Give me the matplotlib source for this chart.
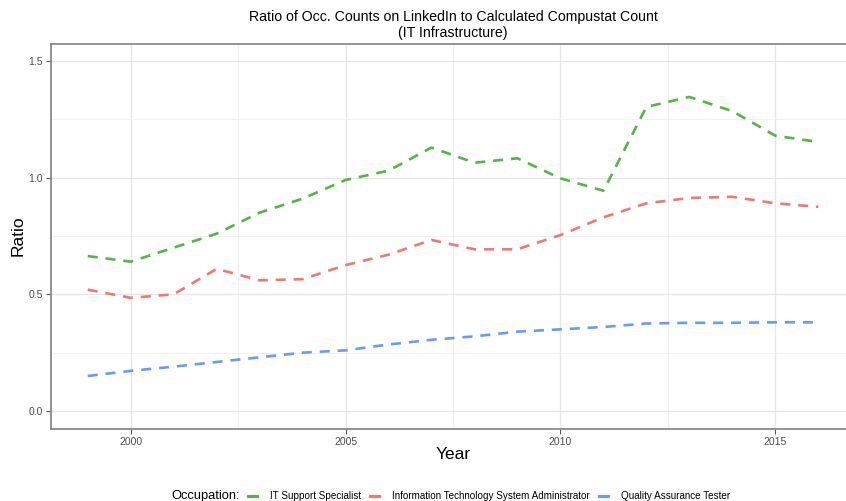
import numpy as np
import matplotlib.pyplot as plt
from matplotlib.lines import Line2D

plt.rcParams['font.family'] = ['Liberation Sans', 'DejaVu Sans']

years = list(range(1999, 2017))

it_support = [0.664, 0.640, 0.700, 0.760, 0.850, 0.910, 0.990, 1.030, 1.129,
              1.064, 1.083, 0.997, 0.944, 1.303, 1.346, 1.285, 1.180, 1.153]
it_admin = [0.520, 0.485, 0.500, 0.609, 0.560, 0.565, 0.625, 0.670, 0.733,
            0.693, 0.693, 0.754, 0.830, 0.890, 0.913, 0.918, 0.890, 0.875]
qa_tester = [0.150, 0.172, 0.190, 0.210, 0.230, 0.250, 0.260, 0.285, 0.305,
             0.320, 0.340, 0.350, 0.360, 0.375, 0.378, 0.378, 0.380, 0.380]

names = ['IT Support Specialist', 'Information Technology System Administrator',
         'Quality Assurance Tester']
colors = ['#4fb840', '#f2776d', '#619cff']
series = [it_support, it_admin, qa_tester]

W, H = 846, 501
fig = plt.figure(figsize=(W / 100, H / 100), dpi=100)
ax = fig.add_axes([51.2 / W, 1 - 428.5 / H, 803.6 / W, 385 / H])

for vals, c in zip(series, colors):
    ax.plot(years, vals, color=c, lw=1.9, dashes=(3.8, 3.0), solid_capstyle='butt')

ax.set_xticks([2000, 2005, 2010, 2015])
ax.set_xticks([2002.5, 2007.5, 2012.5], minor=True)
ax.set_yticks([0.0, 0.5, 1.0, 1.5])
ax.set_yticks([0.25, 0.75, 1.25], minor=True)
ax.set_yticklabels(['0.0', '0.5', '1.0', '1.5'])
ax.set_xlim(1998.15, 2016.85)
ax.set_ylim(-0.075, 1.575)
ax.grid(which='major', color='#e6e6e6', lw=0.9)
ax.grid(which='minor', color='#eeeeee', lw=0.6)
ax.set_axisbelow(True)
ax.tick_params(which='major', length=3.5, width=0.8, color='#555555',
               labelsize=7.5, labelcolor='#4d4d4d', pad=2.5)
ax.tick_params(which='minor', length=0)
for sp in ax.spines.values():
    sp.set_color('#808080')
    sp.set_linewidth(1.2)
ax.spines['right'].set_visible(False)

ax.set_xlabel('Year', fontsize=12.5, labelpad=0)
ax.set_ylabel('Ratio', fontsize=12.5, labelpad=0)
ax.yaxis.set_label_coords(-26 / 803.6, 0.5)
ax.set_title('Ratio of Occ. Counts on LinkedIn to Calculated Compustat Count\n(IT Infrastructure)',
             fontsize=10.2, linespacing=1.15, pad=5)

handles = [Line2D([], [], color=c, lw=2.2) for c in colors]
fig.legend(handles, names, loc='center left', bbox_to_anchor=(248 / W, 1 - 496 / H),
           ncol=3, frameon=False, fontsize=7.15, handlelength=0.9,
           handletextpad=1.3, columnspacing=0.95, borderpad=0, borderaxespad=0)
fig.text(240 / W, 1 - 496 / H, 'Occupation:', ha='right', va='center', fontsize=9.3)

fig.savefig('out.png', dpi=100)
